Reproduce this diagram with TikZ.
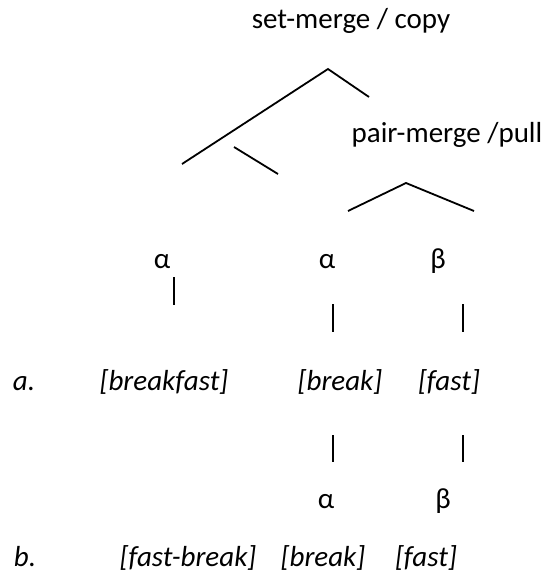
\documentclass[tikz,border=0pt]{standalone}
\usepackage{fontspec}
\setmainfont{Carlito}
\usetikzlibrary{calc}

\begin{document}
\begin{tikzpicture}[x=1pt,y=-1pt,line width=1.8pt,
    lab/.style={inner sep=0pt,anchor=base,font=\fontsize{29}{34}\selectfont},
    ital/.style={lab,font=\fontsize{29}{34}\selectfont\itshape}]
  \useasboundingbox (0,0) rectangle (546,573);
  % operation labels
  \node[lab] (setm) at (351,28) {set-merge / copy};
  \node[lab] (pairm) at (447,142) {pair-merge /pull};
  % tree joints
  \coordinate (top) at (328,69);
  \coordinate (topL) at (182,164);
  \coordinate (topR) at (369,97);
  \coordinate (subA) at (234,147);
  \coordinate (subB) at (278,174);
  \coordinate (pair) at (406,183);
  \coordinate (pairL) at (348,211);
  \coordinate (pairR) at (474,211);
  \draw (topL) -- (top) -- (topR);
  \draw (subA) -- (subB);
  \draw (pairL) -- (pair) -- (pairR);
  % upper alpha/beta row
  \node[lab] (alA) at (162,268) {α};
  \node[lab] (alB) at (327,268) {α};
  \node[lab] (beB) at (438,268) {β};
  \coordinate (barA1) at (174,277);  \coordinate (barA2) at (174,305);
  \coordinate (barB1) at (333,304);  \coordinate (barB2) at (333,332);
  \coordinate (barC1) at (463,304);  \coordinate (barC2) at (463,332);
  \draw (barA1) -- (barA2);
  \draw (barB1) -- (barB2);
  \draw (barC1) -- (barC2);
  % row a.
  \node[ital,anchor=base west] (ra) at (12,390) {a.};
  \node[ital] (bfast) at (164,390) {[breakfast]};
  \node[ital] (brkA) at (340,390) {[break]};
  \node[ital] (fstA) at (449,390) {[fast]};
  \coordinate (barD1) at (333,435);  \coordinate (barD2) at (333,462);
  \coordinate (barE1) at (463,435);  \coordinate (barE2) at (463,462);
  \draw (barD1) -- (barD2);
  \draw (barE1) -- (barE2);
  % lower alpha/beta row
  \node[lab] (alC) at (326,508) {α};
  \node[lab] (beC) at (443,508) {β};
  % row b.
  \node[ital,anchor=base west] (rb) at (13,566) {b.};
  \node[ital] (fbrk) at (188,566) {[fast-break]};
  \node[ital] (brkB) at (323,566) {[break]};
  \node[ital] (fstB) at (426,566) {[fast]};
\end{tikzpicture}
\end{document}
